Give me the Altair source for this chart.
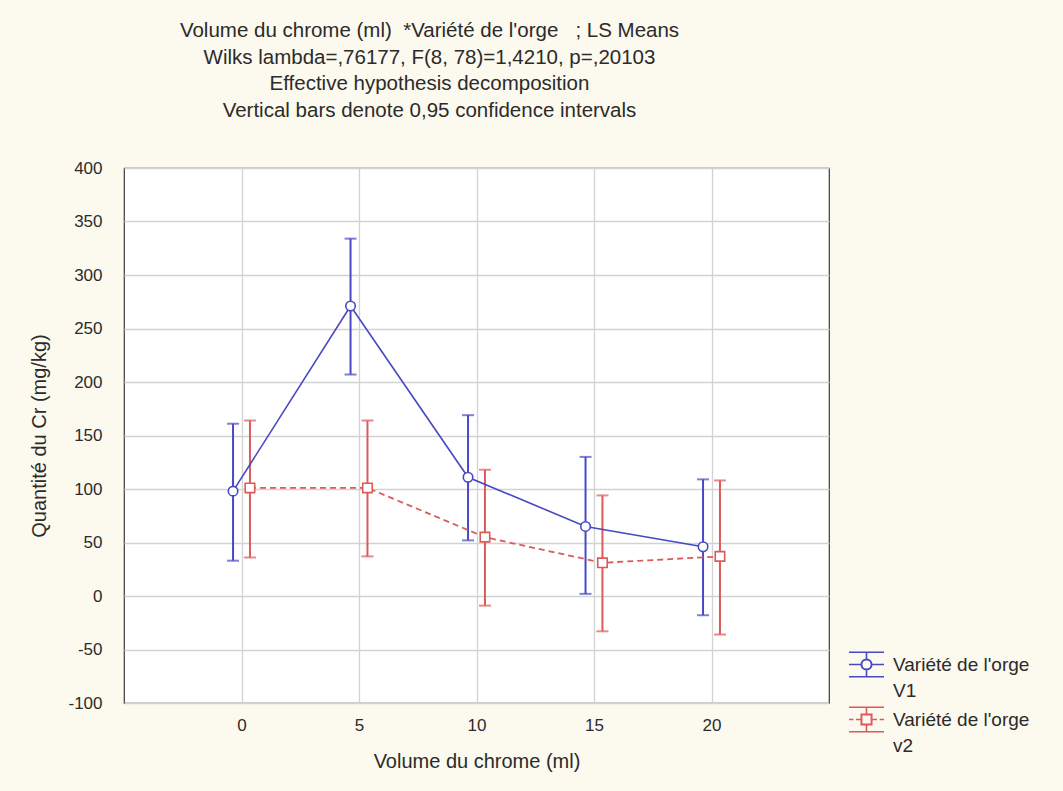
import altair as alt
import pandas as pd

# LS means and 95 % confidence limits of chromium content (mg/kg)
volumes = [0, 5, 10, 15, 20]
v1_mean = [98, 271, 111, 65, 46]
v1_low = [33, 207, 52, 2, -18]
v1_high = [161, 334, 169, 130, 109]
v2_mean = [101, 101, 55, 31, 37]
v2_low = [36, 37, -9, -33, -36]
v2_high = [164, 164, 118, 94, 108]

series_names = ["V1", "v2"]
series_colors = ["#4848c6", "#dc5a5a"]
y_ticks = list(range(-100, 401, 50))

NBSP = "\u00a0"
title_lines = [
    f"Volume du chrome (ml) {NBSP}*Variété de l'orge {NBSP}{NBSP}; LS Means",
    "Wilks lambda=,76177, F(8, 78)=1,4210, p=,20103",
    "Effective hypothesis decomposition",
    "Vertical bars denote 0,95 confidence intervals",
]

rows = []
for name, means, lows, highs in [
    ("V1", v1_mean, v1_low, v1_high),
    ("v2", v2_mean, v2_low, v2_high),
]:
    for v, m, lo, hi in zip(volumes, means, lows, highs):
        rows.append({"serie": name, "volume": v, "moyenne": m, "bas": lo, "haut": hi})
df = pd.DataFrame(rows)

# the two varieties are drawn slightly apart around each volume
DODGE = 0.36
base = alt.Chart(df).transform_calculate(
    xpos=f"datum.volume + (datum.serie == 'V1' ? -{DODGE} : {DODGE})"
)

FONT = "Liberation Sans"
TXT = "#2b2b2b"

x_enc = alt.X(
    "xpos:Q",
    scale=alt.Scale(domain=[-5, 25], nice=False, zero=False),
    axis=alt.Axis(values=volumes, title="Volume du chrome (ml)", labelExpr="'' + datum.value"),
)
y_scale = alt.Scale(domain=[-100, 400], nice=False, zero=False)
y_axis = alt.Axis(values=y_ticks, title="Quantité du Cr (mg/kg)", labelExpr="'' + datum.value")
y_enc = alt.Y("moyenne:Q", scale=y_scale, axis=y_axis)

color_scale = alt.Scale(domain=series_names, range=series_colors)
color_plain = alt.Color("serie:N", scale=color_scale, legend=None)

# legend glyphs: caps, bar, series line and a hollow marker
# (marker outlines are drawn as thin rings so any fill stays out of the middle)
glyph_circle = (
    "M-1,-0.7H1M-1,0.7H1M0,-0.7V-0.3M0,0.3V0.7M-1,0H-0.3M0.3,0H1"
    "M-0.3,0A0.3,0.3 0 1,1 0.3,0A0.3,0.3 0 1,1 -0.3,0Z"
    "M-0.28,0A0.28,0.28 0 1,0 0.28,0A0.28,0.28 0 1,0 -0.28,0Z"
)
glyph_square = (
    "M-1,-0.7H1M-1,0.7H1M0,-0.7V-0.3M0,0.3V0.7M-1,0H-0.75M-0.6,0H-0.3"
    "M0.3,0H0.6M0.75,0H1"
    "M-0.3,-0.3H0.3V0.3H-0.3Z"
    "M-0.28,-0.28V0.28H0.28V-0.28Z"
)

legend = alt.Legend(
    title=None,
    orient="none",
    legendX=724,
    legendY=478,
    labelFont=FONT,
    labelFontSize=19,
    labelColor=TXT,
    labelExpr="['Variété de l\\'orge', datum.label]",
    labelOffset=8,
    labelLimit=300,
    symbolSize=1225,
    symbolStrokeWidth=1.6,
    rowPadding=0,
    padding=0,
)

legend_layer = base.mark_point(opacity=0, filled=False).encode(
    x=x_enc,
    y=y_enc,
    color=alt.Color("serie:N", scale=color_scale, legend=legend),
    shape=alt.Shape(
        "serie:N",
        scale=alt.Scale(domain=series_names, range=[glyph_circle, glyph_square]),
        legend=legend,
    ),
)

bars = base.mark_errorbar(ticks=alt.MarkConfig(size=12), thickness=2).encode(
    x=x_enc,
    y=alt.Y("bas:Q", scale=y_scale, axis=y_axis),
    y2="haut:Q",
    color=color_plain,
)

line_v1 = base.transform_filter("datum.serie == 'V1'").mark_line(
    strokeWidth=1.6
).encode(x=x_enc, y=y_enc, color=color_plain)

line_v2 = base.transform_filter("datum.serie == 'v2'").mark_line(
    strokeWidth=1.8, strokeDash=[6, 4]
).encode(x=x_enc, y=y_enc, color=color_plain)

stroke_plain = alt.Stroke("serie:N", scale=color_scale, legend=None)

pts_v1 = base.transform_filter("datum.serie == 'V1'").mark_point(
    shape="circle", filled=True, fill="white", size=90, strokeWidth=1.6, opacity=1
).encode(x=x_enc, y=y_enc, stroke=stroke_plain)

pts_v2 = base.transform_filter("datum.serie == 'v2'").mark_point(
    shape="square", filled=True, fill="white", size=90, strokeWidth=1.6, opacity=1
).encode(x=x_enc, y=y_enc, stroke=stroke_plain)

chart = (
    alt.layer(legend_layer, bars, line_v1, line_v2, pts_v1, pts_v2)
    .properties(
        width=705,
        height=535,
        autosize=alt.AutoSizeParams(type="none"),
        padding={"left": 124, "top": 168, "right": 234, "bottom": 88},
        background="#fcf9ee",
        title=alt.TitleParams(
            text=title_lines,
            font=FONT,
            fontSize=20.5,
            fontWeight="normal",
            color=TXT,
            lineHeight=26.5,
            anchor="middle",
            frame="group",
            dx=-47,
            offset=38,
        ),
    )
    .configure(style={"guide-label": {"lineHeight": 26.5}})
    .configure_view(fill="white", stroke="#3a3a3a", strokeWidth=1.2)
    .configure_axis(
        grid=True,
        gridColor="#d2d2d2",
        gridWidth=1.3,
        domain=False,
        ticks=False,
        labelFont=FONT,
        labelFontSize=17,
        labelColor=TXT,
        titleFont=FONT,
        titleFontSize=20,
        titleFontWeight="normal",
        titleColor=TXT,
    )
    .configure_axisY(labelPadding=22, titlePadding=18)
    .configure_axisX(labelPadding=14, titlePadding=18)
)

chart.save("out.html", embed_options={"renderer": "svg", "actions": False})
